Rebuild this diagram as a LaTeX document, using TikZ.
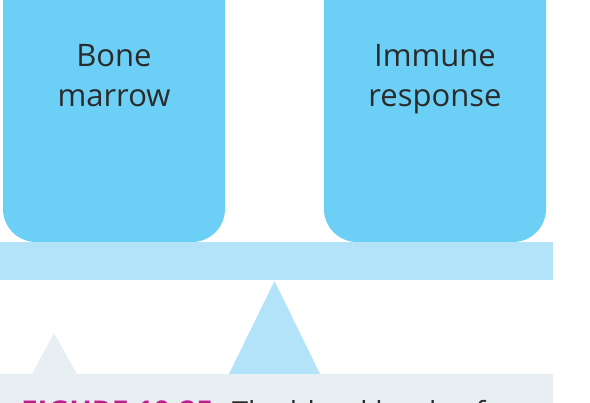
\documentclass[tikz,border=0pt]{standalone}
\usepackage{fontspec}
\setmainfont{Open Sans}
\definecolor{organ}{HTML}{6BCFF6}
\definecolor{beam}{HTML}{B3E3F8}
\definecolor{capbg}{HTML}{E8EFF3}
\definecolor{figpink}{HTML}{BE1E8C}
\definecolor{ink}{HTML}{2B2B2B}
\tikzset{
  organbox/.style={fill=organ, rounded corners=33pt},
  organtext/.style={text=ink, align=center, font=\fontsize{31}{40}\selectfont},
}
\begin{document}
\begin{tikzpicture}[x=1pt,y=-1pt]
    \useasboundingbox (0,0) rectangle (590,403);
    \clip (0,0) rectangle (590,403);
    % the two loads on the balance
    \foreach \n/\x/\t in {bone/3/{Bone\\marrow}, immune/324/{Immune\\response}}{
        \fill[organbox] (\x,-60) rectangle (\x+222,242);
        \node[organtext, anchor=base] (\n) at (\x+111,107) {\t};
    }
    % beam and pivot
    \fill[beam] (0,242) rectangle (553,280);
    \fill[beam] (274.5,281) -- (320,374) -- (229,374) -- cycle;
    % caption strip
    \fill[capbg] (54,333) -- (77,374) -- (32,374) -- cycle;
    \fill[capbg] (0,374) rectangle (553,403);
    \node[anchor=base west, inner sep=0pt, text=figpink, font=\fontsize{30}{34}\bfseries] (fig) at (21,423) {FIGURE 10.25};
    \node[anchor=base west, inner sep=0pt, text=ink, font=\fontsize{29}{34}\selectfont] (caption) at (232,423) {The blood levels of};
\end{tikzpicture}
\end{document}
